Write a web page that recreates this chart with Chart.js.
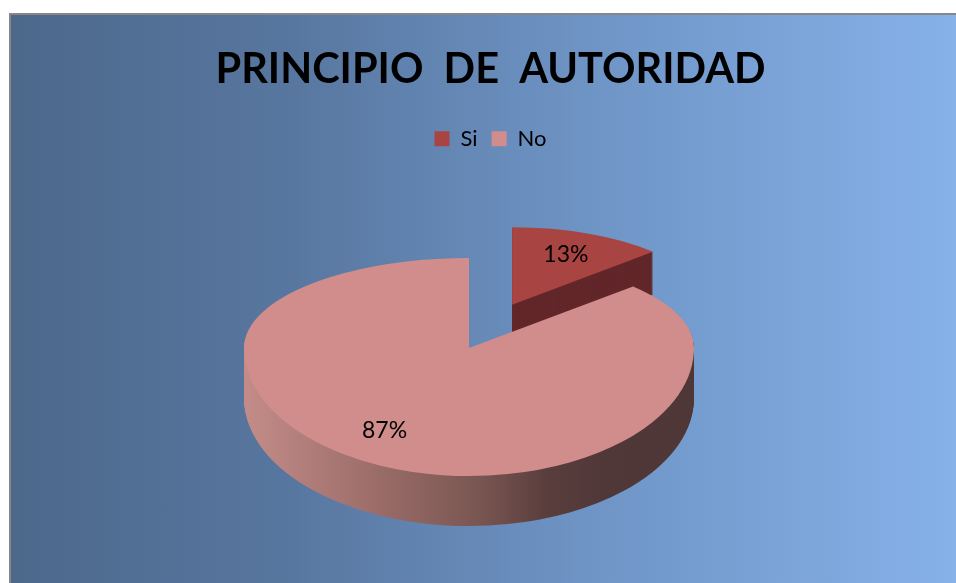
<!DOCTYPE html>
<html>
<head>
<meta charset="utf-8">
<script src="https://cdn.jsdelivr.net/npm/chart.js@4.4.1/dist/chart.umd.min.js"></script>
<style>
  html, body { margin: 0; padding: 0; background: #ffffff; width: 956px; height: 583px; overflow: hidden; }
  #frame {
    position: absolute; left: 9px; top: 13px; width: 947px; height: 570px; box-sizing: border-box;
    border-top: 2px solid #878787; border-left: 2px solid #878787;
    background: linear-gradient(to right, #4c688b 0%, #5877a0 30%, #6f95c6 62%, #86b1e9 100%);
  }
  #wrap { position: absolute; left: 0; top: 0; width: 945px; height: 568px; }
</style>
</head>
<body>
<div id="frame"><div id="wrap"><canvas id="c"></canvas></div></div>
<script>
// ---- data ----
const categories = ['Si', 'No'];
const values = [13, 87];
const chartTitle = 'PRINCIPIO  DE  AUTORIDAD';

// ---- style ----
const topColors = ['#a84542', '#d08d8b'];
const explode = [118, 0];          // slice explosion (px, along mid angle)
const VIEW = { cx: 458, cy: 333, sUp: 0.40, sDown: 0.569, depth: 50, persp: 0.0013, labelR: 0.7 };

function sliceFrame(el, i) {
  const mid = (el.startAngle + el.endAngle) / 2;
  const ex = Math.cos(mid) * explode[i], ey = Math.sin(mid) * explode[i];
  const p = ey < 0 ? 1 + VIEW.persp * ey : 1;
  return { ax: VIEW.cx + ex * 0.92, ay: VIEW.cy + ey * (ey < 0 ? VIEW.sUp : VIEW.sDown), p, mid };
}

function drawSlice(ctx, chart, el, fr, fill, shift) {
  const W = chart.width, H = chart.height;
  const ay = Math.round(fr.ay + shift);
  for (let h = 0; h < 2; h++) {
    ctx.save();
    ctx.beginPath();
    if (h === 0) ctx.rect(-10, -10, W + 20, ay + 11);
    else ctx.rect(-10, ay, W + 20, H + 200);
    ctx.clip();
    ctx.translate(fr.ax, fr.ay + shift);
    ctx.scale(fr.p, fr.p * (h === 0 ? VIEW.sUp : VIEW.sDown));
    ctx.translate(-el.x, -el.y);
    const orig = el.options;
    el.options = Object.assign({}, orig, { backgroundColor: fill, borderWidth: 0, offset: 0 });
    el.draw(ctx);
    el.options = orig;
    ctx.restore();
  }
}

const pie3d = {
  id: 'pie3d',
  beforeDatasetsDraw(chart) {
    const ctx = chart.ctx;
    const meta = chart.getDatasetMeta(0);
    meta.data.forEach((el, i) => {
      const fr = sliceFrame(el, i);
      const R = el.outerRadius;
      let side;
      if (i === 0) {
        side = '#62272a';
      } else {
        side = ctx.createLinearGradient(el.x - R, 0, el.x + R, 0);
        side.addColorStop(0, '#c48c89');
        side.addColorStop(0.33, '#966965');
        side.addColorStop(0.52, '#7a5652');
        side.addColorStop(0.68, '#583d3c');
        side.addColorStop(0.8, '#513838');
        side.addColorStop(1, '#4f3737');
      }
      const d = Math.round(VIEW.depth * fr.p);
      for (let k = d; k >= 1; k--) drawSlice(ctx, chart, el, fr, side, k);
      drawSlice(ctx, chart, el, fr, topColors[i], 0);
    });
    // labels
    const total = values.reduce((a, b) => a + b, 0);
    ctx.save();
    ctx.fillStyle = '#000';
    ctx.font = '23px Lato';
    ctx.textAlign = 'center';
    ctx.textBaseline = 'middle';
    meta.data.forEach((el, i) => {
      const fr = sliceFrame(el, i);
      const r = el.outerRadius * VIEW.labelR;
      const dx = Math.cos(fr.mid) * r * (i === 1 ? 1.35 : 1), dy = Math.sin(fr.mid) * r;
      const x = fr.ax + fr.p * dx;
      const y = fr.ay + fr.p * dy * (dy < 0 ? VIEW.sUp : VIEW.sDown);
      ctx.fillText(Math.round(values[i] / total * 100) + '%', x, y);
    });
    ctx.restore();
    return false;
  }
};

new Chart(document.getElementById('c'), {
  type: 'pie',
  data: {
    labels: categories,
    datasets: [{ data: values, backgroundColor: topColors, borderWidth: 0, radius: 225 }]
  },
  options: {
    responsive: true,
    maintainAspectRatio: false,
    animation: false,
    events: [],
    layout: { padding: { left: 14, right: 0, top: 0, bottom: 0 } },
    plugins: {
      title: {
        display: true, text: chartTitle, color: '#000',
        font: { family: 'Lato', size: 41.5, weight: 'bold' },
        padding: { top: 30, bottom: 19 }
      },
      legend: {
        display: true, position: 'top',
        labels: { color: '#000', font: { family: 'Lato', size: 22 }, boxWidth: 15, boxHeight: 15, padding: 14 }
      },
      tooltip: { enabled: false }
    }
  },
  plugins: [pie3d]
});
</script>
</body>
</html>
